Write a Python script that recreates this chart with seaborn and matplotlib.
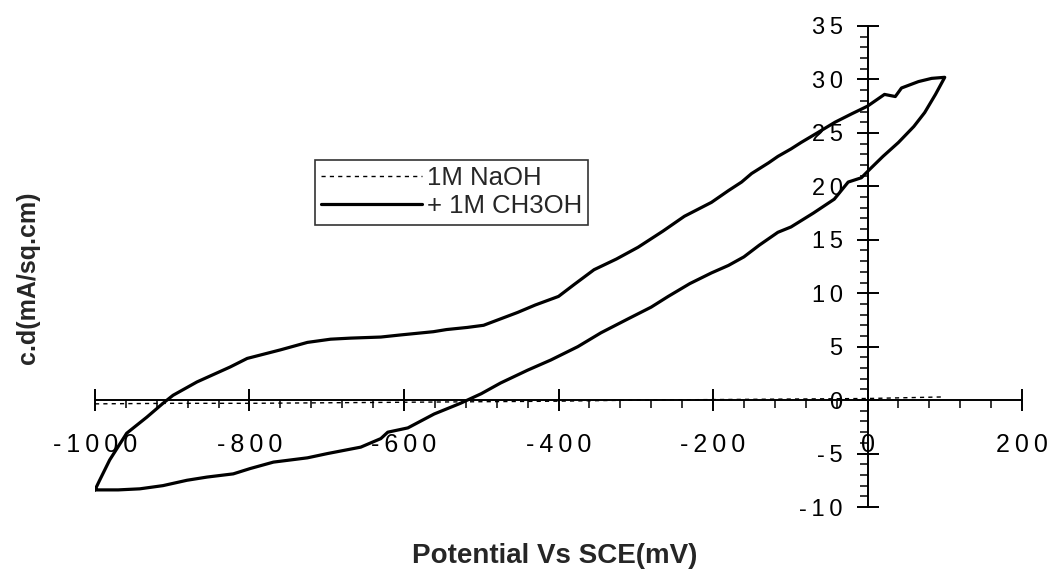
import numpy as np
import pandas as pd
import matplotlib
matplotlib.use("Agg")
import matplotlib.pyplot as plt
import seaborn as sns
from matplotlib.ticker import FixedLocator, FixedFormatter, MultipleLocator

# ---------------- data ----------------
# forward (anodic) sweep, lower branch
x_fwd = [-1000, -970, -942, -912, -881, -855, -821, -799, -769, -725, -699, -656,
         -630, -621, -595, -561, -527, -500, -475, -440, -410, -375, -345, -310,
         -280, -258, -230, -202, -180, -160, -140, -116, -99, -70, -43, -25, -8,
         3, 20, 40, 60, 74, 88, 100]
y_fwd = [-8.4, -8.4, -8.3, -8.0, -7.5, -7.2, -6.9, -6.4, -5.8, -5.4, -5.0, -4.4,
         -3.6, -3.0, -2.6, -1.3, -0.3, 0.6, 1.6, 2.8, 3.75, 5.0, 6.3, 7.6,
         8.7, 9.7, 10.9, 11.9, 12.6, 13.4, 14.5, 15.7, 16.2, 17.5, 18.8, 20.4, 20.8,
         21.6, 22.8, 24.1, 25.6, 26.9, 28.6, 30.2]
# reverse (cathodic) sweep, upper branch
x_rev = [100, 83, 66, 44, 36, 22, 0, -20, -42, -65, -86, -99, -116, -128, -150,
         -163, -180, -202, -237, -265, -297, -325, -354, -380, -400, -430, -453,
         -475, -497, -518, -545, -562, -604, -630, -669, -695, -725, -760, -803,
         -825, -868, -899, -912, -933, -959, -981, -994, -1000]
y_rev = [30.2, 30.1, 29.8, 29.2, 28.4, 28.6, 27.5, 26.8, 26.0, 25.0, 24.1, 23.5,
         22.8, 22.2, 21.2, 20.4, 19.6, 18.5, 17.2, 15.8, 14.3, 13.2, 12.2, 10.8,
         9.7, 8.9, 8.2, 7.6, 7.0, 6.8, 6.6, 6.4, 6.1, 5.9, 5.8, 5.7, 5.4, 4.7,
         3.9, 3.1, 1.7, 0.45, -0.3, -1.6, -3.1, -5.6, -7.5, -8.4]
# blank electrolyte (1M NaOH), almost flat near zero
x_naoh = [-1000, -900, -800, -700, -600, -500, -400, -300, -200, -100, 0, 100]
y_naoh = [-0.35, -0.3, -0.3, -0.25, -0.2, -0.15, -0.1, 0.0, 0.05, 0.1, 0.15, 0.3]

series_names = ["1M NaOH", "+ 1M CH3OH"]
x_ticks = [-1000, -800, -600, -400, -200, 0, 200]
x_tick_labels = ["-1000", "-800", "-600", "-400", "-200", "0", "200"]
y_ticks = [-10, -5, 0, 5, 10, 15, 20, 25, 30, 35]
y_tick_labels = ["-10", "-5", "0", "5", "10", "15", "20", "25", "30", "35"]
x_title = "Potential Vs SCE(mV)"
y_title = "c.d(mA/sq.cm)"

# ---------------- figure ----------------
sns.set_style("white")
plt.rcParams["font.family"] = ["Liberation Sans", "DejaVu Sans"]

W, H = 1053, 578
fig = plt.figure(figsize=(W / 100, H / 100), dpi=100)
ax = fig.add_axes([95 / W, 1 - 507 / H, (1022 - 95) / W, (507 - 26) / H])

df_naoh = pd.DataFrame({"x": x_naoh, "y": y_naoh})
df_meoh = pd.DataFrame({"x": x_fwd + x_rev, "y": y_fwd + y_rev})

sns.lineplot(data=df_naoh, x="x", y="y", sort=False, estimator=None, ax=ax,
             color="black", linewidth=1.0, linestyle=(0, (3, 3)),
             label=series_names[0])
sns.lineplot(data=df_meoh, x="x", y="y", sort=False, estimator=None, ax=ax,
             color="black", linewidth=2.3, label=series_names[1])

ax.set_xlim(-1000, 200)
ax.set_ylim(-10, 35)
ax.set_xlabel("")
ax.set_ylabel("")

for s in ["top", "right"]:
    ax.spines[s].set_visible(False)
ax.spines["left"].set_position(("data", 0))
ax.spines["bottom"].set_position(("data", 0))
for s in ["left", "bottom"]:
    ax.spines[s].set_color("black")
    ax.spines[s].set_linewidth(1.4)

def spaced(t, sep="\u2009"):
    return sep.join(list(t))

ax.xaxis.set_major_locator(FixedLocator(x_ticks))
ax.xaxis.set_major_formatter(FixedFormatter([spaced(t) for t in x_tick_labels]))
ax.yaxis.set_major_locator(FixedLocator(y_ticks))
ax.yaxis.set_major_formatter(FixedFormatter([spaced(t) for t in y_tick_labels]))
ax.xaxis.set_minor_locator(MultipleLocator(40))
ax.yaxis.set_minor_locator(MultipleLocator(1))

ax.tick_params(bottom=True, left=True, which="both")
ax.tick_params(axis="x", which="major", direction="inout", length=16, width=1.4,
               pad=16, labelsize=18, colors="black")
ax.tick_params(axis="y", which="major", direction="inout", length=16, width=1.4,
               pad=10, labelsize=17, colors="black")
ax.tick_params(axis="both", which="minor", direction="out", length=6, width=1.1,
               colors="black")

fig.text(28 / W, 1 - 278 / H, y_title, rotation=90, ha="center", va="center",
         fontsize=18, fontweight="bold")
fig.text(555 / W, 1 - 556 / H, x_title, ha="center", va="center",
         fontsize=20, fontweight="bold")

leg = ax.legend(loc="upper left", bbox_to_anchor=(315 / W, 1 - 160 / H),
                bbox_transform=fig.transFigure, frameon=True, fancybox=False,
                fontsize=18.5, handlelength=3.9, handletextpad=0.2,
                borderpad=0.25, labelspacing=0.15, borderaxespad=0)
leg.get_frame().set_edgecolor("black")
leg.get_frame().set_linewidth(1.2)

fig.savefig("out.png", dpi=100, facecolor="white")
